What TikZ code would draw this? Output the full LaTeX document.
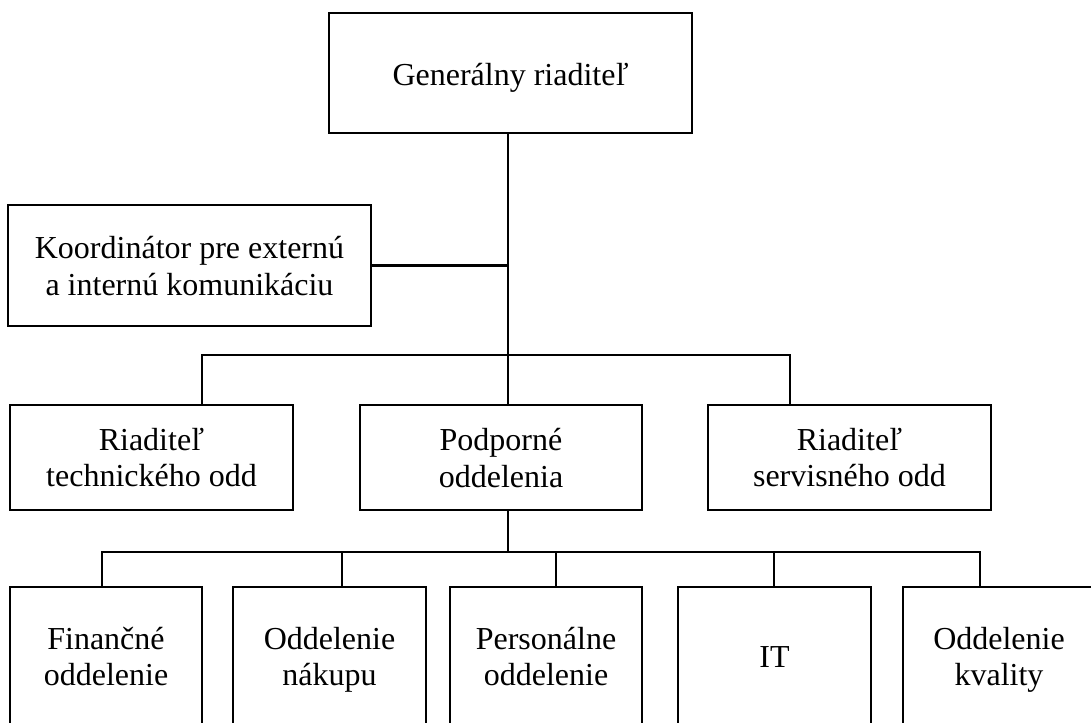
\documentclass[tikz,border=0pt]{standalone}
\usepackage{fontspec}
\setmainfont{Liberation Serif}
% fixed line struts so every text line sits on the same grid
\newcommand\lnstrut{\rule[-6.8pt]{0pt}{36pt}}
\newcommand\topstrut{\rule[-4pt]{0pt}{36pt}}
\begin{document}
\begin{tikzpicture}[x=1pt,y=-1pt,
  unit/.style={draw, line width=2.6pt, rectangle, inner sep=0pt, align=center,
    font=\fontsize{32}{36}\selectfont},
  conn/.style={line width=2.2pt}]
\useasboundingbox (0,0) rectangle (1091,722);

% top level
\node[unit, minimum width=363pt, minimum height=120pt] (gr) at (510.5,73) {\topstrut Generálny riaditeľ};
\node[unit, minimum width=363pt, minimum height=121pt] (koord) at (189.5,265.5)
  {\lnstrut Koordinátor pre externú\\\lnstrut a internú komunikáciu};

% second level
\node[unit, minimum width=283pt, minimum height=105pt] (tech) at (151.5,457.5) {\lnstrut Riaditeľ\\\lnstrut technického odd};
\node[unit, minimum width=282pt, minimum height=105pt] (podp) at (501,457.5) {\lnstrut Podporné\\\lnstrut oddelenia};
\node[unit, minimum width=283pt, minimum height=105pt] (serv) at (849.5,457.5) {\lnstrut Riaditeľ\\\lnstrut servisného odd};

% support departments
\node[unit, minimum width=192pt, minimum height=139pt] (fin)  at (106,656.5)   {\lnstrut Finančné\\\lnstrut oddelenie};
\node[unit, minimum width=193pt, minimum height=139pt] (nak)  at (329.5,656.5) {\lnstrut Oddelenie\\\lnstrut nákupu};
\node[unit, minimum width=192pt, minimum height=139pt] (pers) at (546,656.5)   {\lnstrut Personálne\\\lnstrut oddelenie};
\node[unit, minimum width=193pt, minimum height=139pt] (it)   at (774.5,656.5) {\lnstrut IT};
\node[unit, minimum width=192pt, minimum height=139pt] (kval) at (999,656.5)   {\lnstrut Oddelenie\\\lnstrut kvality};

% connector geometry
\coordinate (spine) at (508,0);
\coordinate (tL) at (202,355);
\coordinate (sR) at (790,355);
\coordinate (bL) at (102,552);
\coordinate (bR) at (980,552);
\coordinate (b2) at (342,552);
\coordinate (b3) at (556,552);
\coordinate (b4) at (774,552);

\draw[conn] (gr.south -| spine) -- (podp.north -| spine);
\draw[conn] (koord.east) -- (koord.east -| spine);
\draw[conn] (tech.north -| tL) -- (tL) -- (sR) -- (serv.north -| sR);
\draw[conn] (podp.south -| spine) -- (spine |- bL);
\draw[conn] (fin.north -| bL) -- (bL) -- (bR) -- (kval.north -| bR);
\draw[conn] (nak.north -| b2) -- (b2);
\draw[conn] (pers.north -| b3) -- (b3);
\draw[conn] (it.north -| b4) -- (b4);
\end{tikzpicture}
\end{document}
